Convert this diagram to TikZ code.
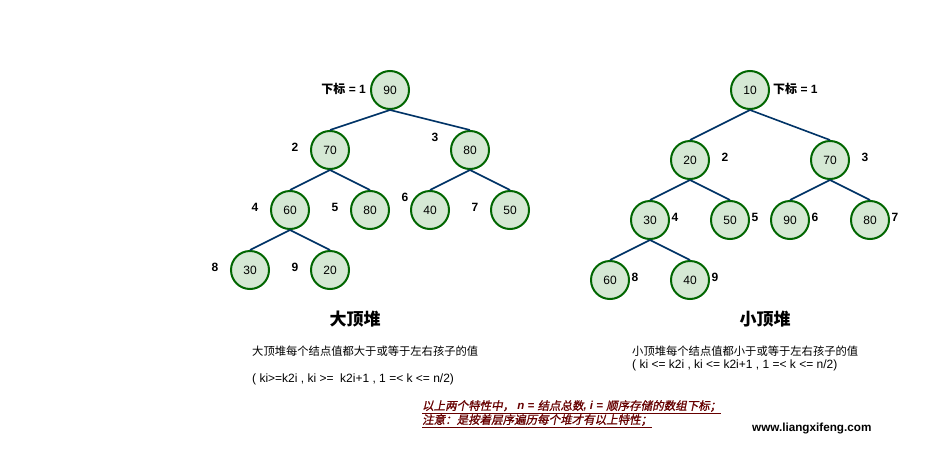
\documentclass[tikz,border=0pt]{standalone}
\usepackage{fontspec}
\setmainfont{Liberation Sans}
\newfontfamily\cjk{Noto Sans CJK SC}
\newfontfamily\cjkslant[FakeSlant=0.2, FakeBold=1.2]{Noto Sans CJK SC}
\newfontfamily\latslant{Liberation Sans Italic}
\definecolor{nodefill}{HTML}{D5E8D4}
\definecolor{nodeline}{HTML}{006600}
\definecolor{edgeblue}{HTML}{003366}
\definecolor{notered}{HTML}{660000}
\begin{document}
\begin{tikzpicture}[
    x=1pt, y=-1pt,
    hnode/.style={circle, draw=nodeline, fill=nodefill, line width=2pt, minimum size=38pt, inner sep=0pt, font=\fontsize{12}{14}\selectfont},
    idx/.style={font=\fontsize{12}{14}\selectfont\bfseries},
    edge/.style={draw=edgeblue, line width=1.6pt},
    ttl/.style={font=\fontsize{17}{20}\selectfont\cjk\bfseries},
    desc/.style={font=\fontsize{12}{14}\selectfont, anchor=west, inner sep=0pt},
    note/.style={font=\fontsize{11.5}{14}\selectfont\cjkslant, text=notered, anchor=west, inner sep=0pt}
]
    \useasboundingbox (0,0) rectangle (928,455);

    % big-top heap
    \node[hnode] (a1) at (390,90) {90};
    \node[hnode] (a2) at (330,150) {70};
    \node[hnode] (a3) at (470,150) {80};
    \node[hnode] (a4) at (290,210) {60};
    \node[hnode] (a5) at (370,210) {80};
    \node[hnode] (a6) at (430,210) {40};
    \node[hnode] (a7) at (510,210) {50};
    \node[hnode] (a8) at (250,270) {30};
    \node[hnode] (a9) at (330,270) {20};
    \foreach \p/\c in {a1/a2, a1/a3, a2/a4, a2/a5, a3/a6, a3/a7, a4/a8, a4/a9} {
        \draw[edge] (\p.south) -- (\c.north);
    }
    \node[idx, anchor=east, inner sep=0pt] (ai1) at (366,89) {{\cjk 下标} = 1};
    \node[idx] (ai2) at (295,147) {2};
    \node[idx] (ai3) at (435,137) {3};
    \node[idx] (ai4) at (255,207) {4};
    \node[idx] (ai5) at (335,207) {5};
    \node[idx] (ai6) at (405,197) {6};
    \node[idx] (ai7) at (475,207) {7};
    \node[idx] (ai8) at (215,267) {8};
    \node[idx] (ai9) at (295,267) {9};

    % small-top heap
    \node[hnode] (b1) at (750,90) {10};
    \node[hnode] (b2) at (690,160) {20};
    \node[hnode] (b3) at (830,160) {70};
    \node[hnode] (b4) at (650,220) {30};
    \node[hnode] (b5) at (730,220) {50};
    \node[hnode] (b6) at (790,220) {90};
    \node[hnode] (b7) at (870,220) {80};
    \node[hnode] (b8) at (610,280) {60};
    \node[hnode] (b9) at (690,280) {40};
    \foreach \p/\c in {b1/b2, b1/b3, b2/b4, b2/b5, b3/b6, b3/b7, b4/b8, b4/b9} {
        \draw[edge] (\p.south) -- (\c.north);
    }
    \node[idx, anchor=west, inner sep=0pt] (bi1) at (773,89) {{\cjk 下标} = 1};
    \node[idx] (bi2) at (725,157) {2};
    \node[idx] (bi3) at (865,157) {3};
    \node[idx] (bi4) at (675,217) {4};
    \node[idx] (bi5) at (755,217) {5};
    \node[idx] (bi6) at (815,217) {6};
    \node[idx] (bi7) at (895,217) {7};
    \node[idx] (bi8) at (635,277) {8};
    \node[idx] (bi9) at (715,277) {9};

    % captions
    \node[ttl] (bigttl) at (355,319) {大顶堆};
    \node[ttl] (smallttl) at (765,319) {小顶堆};
    \node[desc] (bigdesc) at (252,351) {\fontsize{11.3}{14}\selectfont\cjk 大顶堆每个结点值都大于或等于左右孩子的值};
    \node[desc] (bigrule) at (252,379) {( ki>=k2i , ki >=\ \ k2i+1 , 1 =< k <= n/2)};
    \node[desc] (smalldesc) at (632,351) {\fontsize{11.3}{14}\selectfont\cjk 小顶堆每个结点值都小于或等于左右孩子的值};
    \node[desc] (smallrule) at (632,365) {( ki <= k2i , ki <= k2i+1 , 1 =< k <= n/2)};

    % notes
    \node[note] (note1) at (422,407) {\underline{以上两个特性中，{\latslant\bfseries\ n = }结点总数{\latslant\bfseries , i = }顺序存储的数组下标；}};
    \node[note] (note2) at (422,421) {\underline{注意：是按着层序遍历每个堆才有以上特性；}};
    \node[font=\fontsize{11.7}{14}\selectfont\bfseries, anchor=west, inner sep=0pt] (site) at (752,428) {www.liangxifeng.com};
\end{tikzpicture}
\end{document}
